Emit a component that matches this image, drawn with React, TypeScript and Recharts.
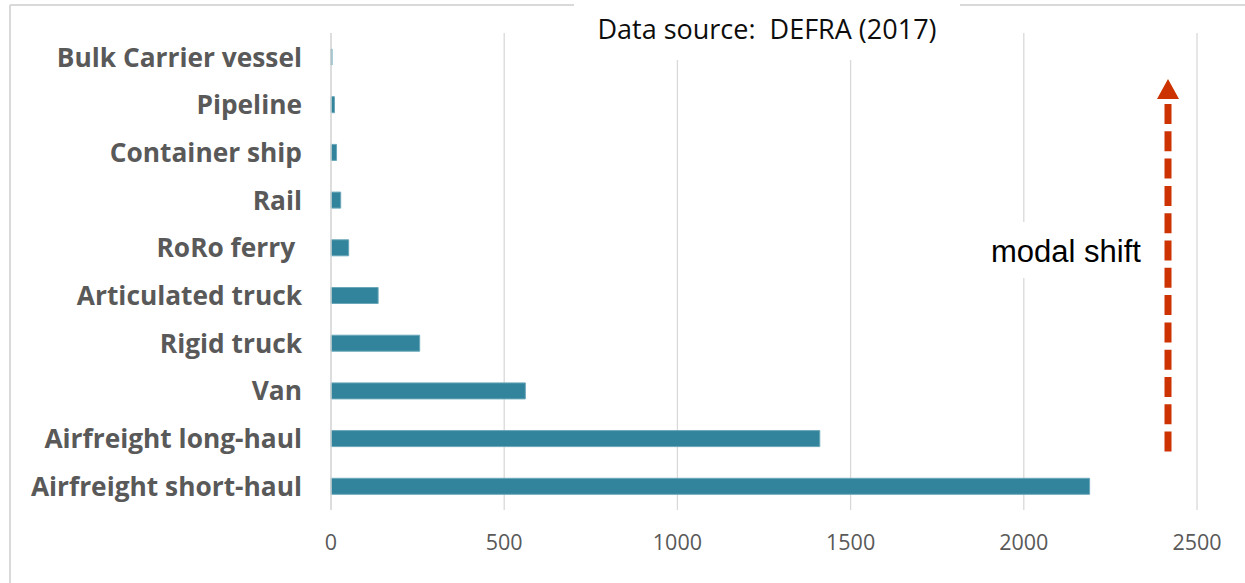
import { BarChart, Bar, XAxis, YAxis, CartesianGrid } from 'recharts';

// Freight emission intensity by transport mode
const modes = [
    'Bulk Carrier vessel',
    'Pipeline',
    'Container ship',
    'Rail',
    'RoRo ferry ',
    'Articulated truck',
    'Rigid truck',
    'Van',
    'Airfreight long-haul',
    'Airfreight short-haul',
];
const emissions = [3, 10, 16, 28, 51, 136, 256, 561, 1411, 2190];
const xTicks = [0, 500, 1000, 1500, 2000, 2500];

const sourceNote = 'Data source:  DEFRA (2017)';
const arrowLabel = 'modal shift';

const data = modes.map((mode, i) => ({ mode, value: emissions[i] }));

const W = 1245;
const H = 583;
const GRID = '#d9d9d9';
const TEXT_GREY = '#595959';

function ModeTick({ x, y, payload }: any) {
    return (
        <text
            x={x}
            y={y}
            dy="0.37em"
            textAnchor="end"
            fill={TEXT_GREY}
            fontFamily="'Open Sans', sans-serif"
            fontWeight={700}
            fontSize={26.3}
            style={{ whiteSpace: 'pre' }}
        >
            {payload.value}
        </text>
    );
}

function ValueTick({ x, y, payload }: any) {
    return (
        <text
            x={x}
            y={y}
            textAnchor="middle"
            fill={TEXT_GREY}
            fontFamily="'Open Sans', sans-serif"
            fontSize={21.5}
        >
            {payload.value}
        </text>
    );
}

export default function App() {
    return (
        <div style={{ position: 'absolute', left: 0, top: 0, width: W, height: H, background: '#fff' }}>
            <BarChart
                width={W}
                height={H}
                data={data}
                layout="vertical"
                margin={{ top: 33, right: 48, left: 0, bottom: 13 }}
                barCategoryGap={0}
            >
                <CartesianGrid horizontal={false} stroke={GRID} strokeWidth={1.3} />
                <XAxis
                    type="number"
                    domain={[0, 2500]}
                    ticks={xTicks}
                    axisLine={false}
                    tickLine={false}
                    tickSize={0}
                    tickMargin={40}
                    height={60}
                    tick={<ValueTick />}
                />
                <YAxis
                    type="category"
                    dataKey="mode"
                    width={331}
                    interval={0}
                    axisLine={{ stroke: GRID, strokeWidth: 1.3 }}
                    tickLine={false}
                    tickSize={0}
                    tickMargin={29}
                    tick={<ModeTick />}
                />
                <Bar
                    dataKey="value"
                    barSize={16}
                    fill="#31849b"
                    stroke="#6aa7b9"
                    strokeWidth={1}
                    isAnimationActive={false}
                />
            </BarChart>

            {/* frame, source note and the modal shift arrow */}
            <svg
                width={W}
                height={H}
                style={{ position: 'absolute', left: 0, top: 0, pointerEvents: 'none' }}
            >
                <line x1={10} y1={5} x2={W} y2={5} stroke={GRID} strokeWidth={2} />
                <line x1={10} y1={5} x2={10} y2={H} stroke={GRID} strokeWidth={2} />

                <rect x={574} y={0} width={386} height={60} fill="#fff" />
                <text
                    x={767}
                    y={39}
                    textAnchor="middle"
                    fill="#0d0d0d"
                    fontFamily="'Open Sans', sans-serif"
                    fontSize={27}
                    style={{ whiteSpace: 'pre' }}
                >
                    {sourceNote}
                </text>

                <rect x={975} y={222} width={180} height={56} fill="#fff" />
                <text
                    x={991}
                    y={262}
                    fill="#000"
                    fontFamily="'Liberation Sans', Arial, sans-serif"
                    fontSize={31}
                >
                    {arrowLabel}
                </text>

                <line
                    x1={1168}
                    y1={104}
                    x2={1168}
                    y2={452}
                    stroke="#cc3300"
                    strokeWidth={7}
                    strokeDasharray="20 7.3"
                />
                <polygon points="1168,79 1157,99 1179,99" fill="#cc3300" />
            </svg>
        </div>
    );
}
